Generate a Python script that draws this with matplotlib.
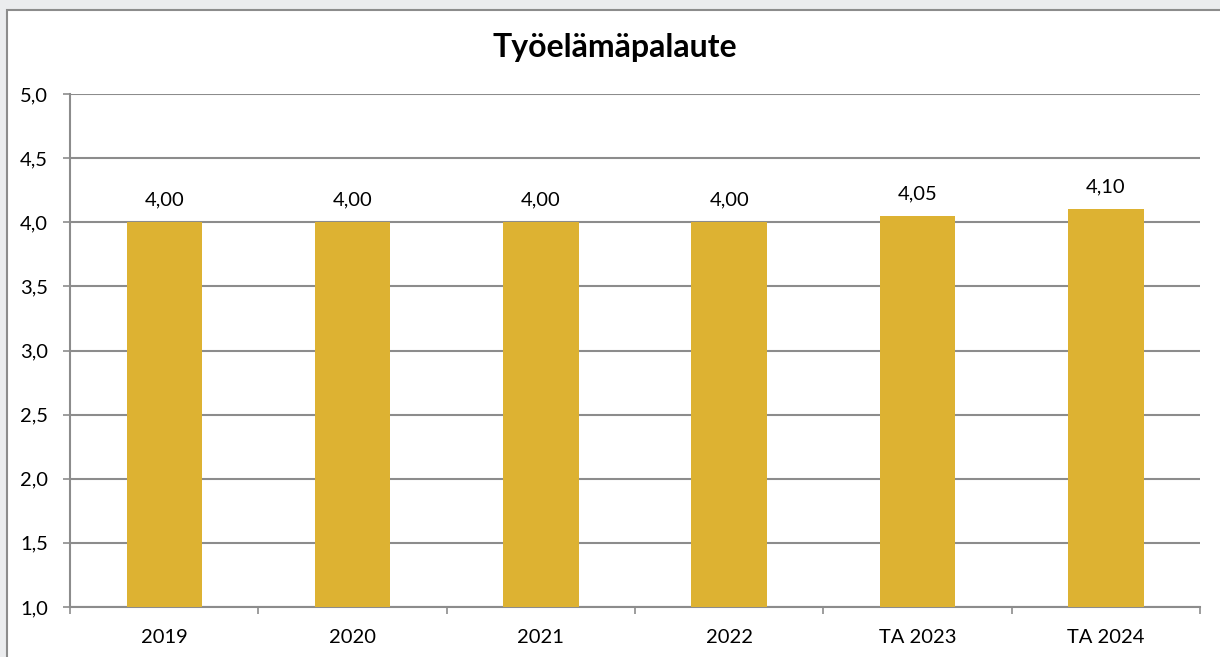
import matplotlib
matplotlib.use("Agg")
import matplotlib.pyplot as plt
from matplotlib.patches import Rectangle
from matplotlib.ticker import FuncFormatter, FixedLocator

categories = ["2019", "2020", "2021", "2022", "TA 2023", "TA 2024"]
values = [4.00, 4.00, 4.00, 4.00, 4.05, 4.10]
title = "Työelämäpalaute"

plt.rcParams['font.family'] = ['Lato', 'DejaVu Sans']

W, H = 1220, 657
fig = plt.figure(figsize=(W / 100, H / 100), dpi=100, facecolor='#EBECEE')
# white chart area with gray border on left/top
bg = Rectangle((7 / W, -0.05), 1.1, (H - 10) / H + 0.05,
               transform=fig.transFigure, facecolor='white',
               edgecolor='#8C8C8C', linewidth=1.5, zorder=-10)
fig.add_artist(bg)

ax = fig.add_axes([70 / W, (H - 607) / H, (1200 - 70) / W, (607 - 94) / H])
ax.set_zorder(5)
ax.set_facecolor('none')
x = list(range(len(categories)))
ax.bar(x, values, width=0.4, color='#DDB232', zorder=3)
ax.set_xlim(-0.5, len(categories) - 0.5)
ax.set_ylim(1.0, 5.0)
ax.set_yticks([1.0 + 0.5 * i for i in range(9)])
ax.yaxis.set_major_formatter(FuncFormatter(lambda v, p: f"{v:.1f}".replace('.', ',')))
ax.grid(axis='y', color='#8C8C8C', linewidth=1.5, zorder=1)
ax.set_axisbelow(True)

ax.set_xticks(x)
ax.set_xticklabels(categories)
ax.xaxis.set_minor_locator(FixedLocator([i + 0.5 for i in range(-1, len(categories))]))
ax.tick_params(axis='x', which='major', length=0, pad=16, labelsize=14.5, colors='#000000')
ax.tick_params(axis='x', which='minor', length=5, width=1.2, color='#8C8C8C')
ax.tick_params(axis='y', length=5, width=1.2, color='#8C8C8C', pad=11, labelsize=14.5)

for s in ['top', 'right']:
    ax.spines[s].set_visible(False)
for s in ['left', 'bottom']:
    ax.spines[s].set_color('#8C8C8C')
    ax.spines[s].set_linewidth(1.5)

for xi, v in zip(x, values):
    ax.annotate(f"{v:.2f}".replace('.', ','), (xi, v), xytext=(0, 10),
                textcoords='offset points', ha='center', va='bottom', fontsize=14.5)

fig.text(615 / W, 1 - 48 / H, title, ha='center', va='center',
         fontsize=23, fontweight='bold', zorder=6)

fig.savefig("out.png", dpi=100, facecolor=fig.get_facecolor())
